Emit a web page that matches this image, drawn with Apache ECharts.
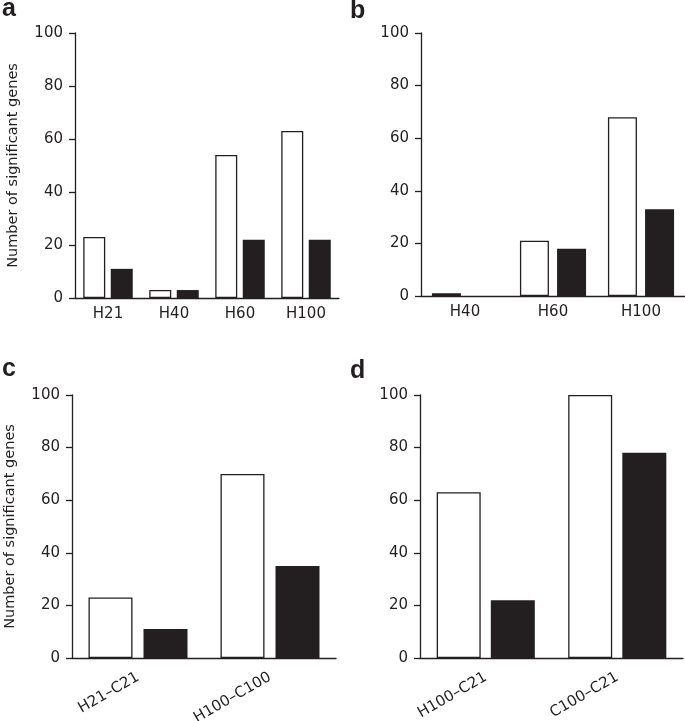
<!DOCTYPE html>
<html>
<head>
<meta charset="utf-8">
<script src="https://cdn.jsdelivr.net/npm/echarts@6/dist/echarts.min.js"></script>
<style>html,body{margin:0;padding:0;background:#fff;}#chart{width:685px;height:721px;}</style>
</head>
<body>
<div id="chart"></div>
<script>
// ---- data ----
const catsA = ['H21', 'H40', 'H60', 'H100'];
const whiteA = [23, 3, 54, 63];
const blackA = [11, 3, 22, 22];

const catsB = ['H40', 'H60', 'H100'];
const whiteB = [1, 21, 68];
const blackB = [0, 18, 33];

const catsC = ['H21–C21', 'H100–C100'];
const whiteC = [23, 70];
const blackC = [11, 35];

const catsD = ['H100–C21', 'C100–C21'];
const whiteD = [63, 100];
const blackD = [22, 78];

const panelLetters = ['a', 'b', 'c', 'd'];
const yName = 'Number of significant genes';
const yMin = 0, yMax = 100, yStep = 20;

// ---- styling ----
const INK = '#231f20';
const FONT = '"DejaVu Sans", "Liberation Sans", Arial, sans-serif';
const grids = [
  {left: 75, top: 33, width: 264, height: 265, outerBoundsMode: 'none', containLabel: false},
  {left: 421, top: 33, width: 264, height: 263, outerBoundsMode: 'none', containLabel: false},
  {left: 72, top: 395, width: 264, height: 263, outerBoundsMode: 'none', containLabel: false},
  {left: 420, top: 395, width: 263, height: 263, outerBoundsMode: 'none', containLabel: false}
];
const cats = [catsA, catsB, catsC, catsD];
const whites = [whiteA, whiteB, whiteC, whiteD];
const blacks = [blackA, blackB, blackC, blackD];
const barWidths = [22, 29, 44, 44];
const barGaps = ['25%', '28%', '25%', '23%'];
const rotated = [false, false, true, true];
const showName = [true, false, true, false];

const xAxes = cats.map((c, i) => ({
  type: 'category', gridIndex: i, data: c,
  axisLine: {lineStyle: {color: INK, width: 1.3}},
  axisTick: {show: false},
  axisLabel: rotated[i]
    ? {color: INK, fontFamily: FONT, fontSize: 15, rotate: 30, margin: 18}
    : {color: INK, fontFamily: FONT, fontSize: 15, margin: 9},
  splitLine: {show: false}
}));
const yAxes = grids.map((g, i) => ({
  type: 'value', gridIndex: i, min: yMin, max: yMax, interval: yStep,
  name: showName[i] ? yName : '',
  nameLocation: 'middle', nameGap: 54,
  nameTextStyle: {color: INK, fontFamily: FONT, fontSize: 14.5},
  axisLine: {show: true, lineStyle: {color: INK, width: 1.3}},
  axisTick: {show: true, length: 6, lineStyle: {color: INK, width: 1.3}},
  axisLabel: {color: INK, fontFamily: FONT, fontSize: 15, margin: 12},
  splitLine: {show: false}
}));
const series = [];
cats.forEach((c, i) => {
  series.push({
    type: 'bar', xAxisIndex: i, yAxisIndex: i, data: whites[i],
    barWidth: barWidths[i], barGap: barGaps[i],
    itemStyle: {color: '#ffffff', borderColor: INK, borderWidth: 1.3},
    silent: true, animation: false
  });
  series.push({
    type: 'bar', xAxisIndex: i, yAxisIndex: i, data: blacks[i],
    barWidth: barWidths[i], barGap: barGaps[i],
    itemStyle: {color: INK},
    silent: true, animation: false
  });
});
const letterPos = [[2, 9], [350, 11], [2, 369], [350, 371]];
const graphics = panelLetters.map((t, i) => ({
  type: 'text', left: letterPos[i][0], top: letterPos[i][1] - 12,
  style: {text: t, fill: INK, font: 'bold 25px "Liberation Sans", Arial, sans-serif'}
}));

const chart = echarts.init(document.getElementById('chart'), null, {renderer: 'canvas'});
chart.setOption({
  animation: false,
  grid: grids,
  xAxis: xAxes,
  yAxis: yAxes,
  series: series,
  graphic: graphics
});
</script>
</body>
</html>
